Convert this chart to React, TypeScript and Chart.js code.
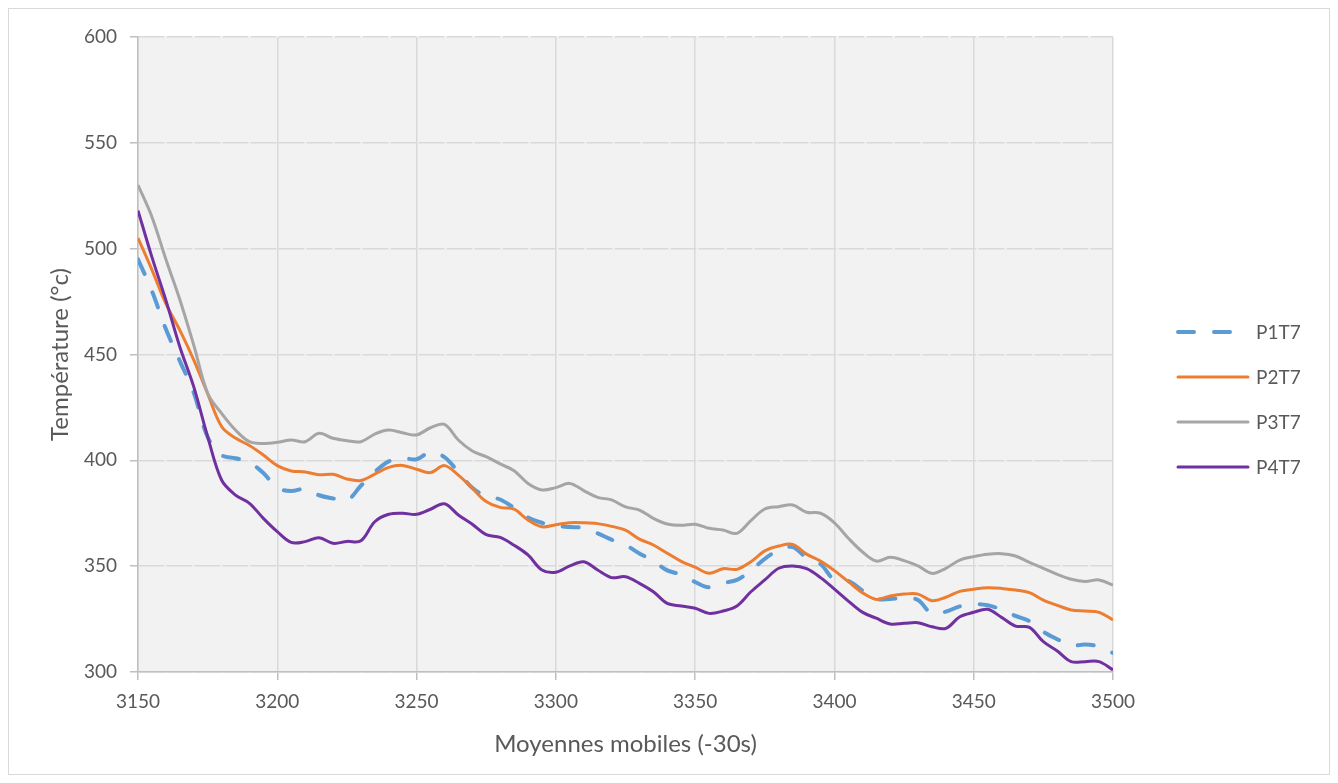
import React, { useEffect, useRef } from "react";
import { Chart, registerables } from "chart.js";

Chart.register(...registerables);

const FONT = "Lato, 'Open Sans', sans-serif";
const TEXT_COLOR = "#595959";
const GRID_COLOR = "#d9d9d9";
const AXIS_COLOR = "#bfbfbf";

const times = [
  3150, 3155, 3160, 3165, 3170, 3175, 3180, 3185, 3190, 3195,
  3200, 3205, 3210, 3215, 3220, 3225, 3230, 3235, 3240, 3245,
  3250, 3255, 3260, 3265, 3270, 3275, 3280, 3285, 3290, 3295,
  3300, 3305, 3310, 3315, 3320, 3325, 3330, 3335, 3340, 3345,
  3350, 3355, 3360, 3365, 3370, 3375, 3380, 3385, 3390, 3395,
  3400, 3405, 3410, 3415, 3420, 3425, 3430, 3435, 3440, 3445,
  3450, 3455, 3460, 3465, 3470, 3475, 3480, 3485, 3490, 3495,
  3500,
];

const p1t7 = [
  495, 480, 462, 447, 432, 411, 402.5, 401, 399, 394,
  387, 385.5, 386.5, 383.5, 382, 381, 388, 394.5, 399.5, 401,
  400.5, 404, 401.5, 394.5, 387, 383, 381.5, 377.5, 373, 370.5,
  369, 368.5, 368, 365.5, 362.5, 360, 356, 352.5, 348, 346,
  342.5, 340, 342, 343.5, 348, 353.5, 357.5, 359, 354, 351,
  343.5, 343, 338.5, 334.5, 334.5, 335, 334, 327.5, 328.5, 331,
  332, 331.5, 329.5, 326.5, 324, 319, 315.5, 312.5, 313, 312,
  309,
];

const p2t7 = [
  505, 490, 474, 461.5, 447.5, 431.5, 416, 410.5, 407, 402.5,
  397.5, 395, 394.5, 393.2, 393.4, 391.2, 390.5, 393.5, 396.7, 397.6,
  395.8, 394.2, 397.5, 393, 386.8, 380.5, 377.8, 376.9, 371.8, 368.6,
  369.6, 370.5, 370.5, 370.1, 368.8, 367, 362.8, 360, 356.1, 352.3,
  349.5, 346.6, 348.8, 348.5, 352.1, 357.2, 359.5, 360.3, 355.7, 352.4,
  347.9, 342.7, 337.5, 334.3, 335.9, 336.8, 336.8, 333.7, 335.3, 338.1,
  339.1, 339.8, 339.5, 338.7, 337.5, 334, 331.5, 329.3, 328.8, 328.2,
  324.6,
];

const p3t7 = [
  530, 515, 495, 476, 454.5, 431.7, 422.2, 414.3, 408.8, 408,
  408.5, 409.6, 408.8, 412.8, 410.4, 409.3, 408.8, 412.4, 414.3, 413,
  412, 415.4, 417, 409.6, 404.4, 401.7, 398.3, 395.1, 389.1, 386,
  387.1, 389.1, 385.7, 382.5, 381.3, 378, 376.5, 372.6, 369.9, 369.3,
  369.8, 367.9, 367.1, 365.5, 371.5, 377, 378.1, 378.9, 375.5, 375,
  370.5, 363.2, 356.8, 352.4, 354.2, 352.6, 350.1, 346.6, 349, 352.9,
  354.5, 355.6, 355.9, 354.8, 351.8, 349, 346.1, 343.8, 342.8, 343.5,
  341.1,
];

const p4t7 = [
  518, 496, 475.7, 453.7, 434.8, 411.2, 390.7, 383.6, 379.7, 372.6,
  366.3, 361.2, 361.6, 363.4, 360.8, 361.7, 362, 371, 374.5, 375,
  374.5, 376.9, 379.5, 374.2, 369.8, 364.9, 363.6, 359.9, 355.3, 348.2,
  347.1, 350.1, 352.1, 348.2, 344.6, 345, 341.9, 337.9, 332.4, 331.2,
  330.1, 327.7, 328.8, 331.2, 337.9, 343.5, 349, 350.1, 348.8, 344.6,
  339.2, 333.5, 328.3, 325.4, 322.7, 323, 323.3, 321.4, 320.6, 326.1,
  328.2, 329.6, 325.8, 321.7, 321.1, 314.3, 309.9, 304.9, 304.9, 304.9,
  301,
];

const seriesLabels = ["P1T7", "P2T7", "P3T7", "P4T7"];
const seriesColors = ["#5B9BD5", "#ED7D31", "#A5A5A5", "#7030A0"];
const seriesValues = [p1t7, p2t7, p3t7, p4t7];

const xTitle = "Moyennes mobiles (-30s)";
const yTitle = "Température (°c)";

const plotBackground = {
  id: "plotBackground",
  beforeDraw(chart: any) {
    const { ctx, chartArea } = chart;
    if (!chartArea) return;
    ctx.save();
    ctx.fillStyle = "#f2f2f2";
    ctx.fillRect(chartArea.left, chartArea.top, chartArea.right - chartArea.left, chartArea.bottom - chartArea.top);
    ctx.restore();
  },
};

const sideLegend = {
  id: "sideLegend",
  afterDraw(chart: any) {
    const { ctx, chartArea } = chart;
    const x0 = chartArea.right + 65;
    const x1 = x0 + 70;
    const yStart = chartArea.top + 295;
    const step = 45;
    chart.data.datasets.forEach((ds: any, i: number) => {
      const y = yStart + i * step;
      ctx.save();
      ctx.strokeStyle = ds.borderColor;
      ctx.lineWidth = ds.borderWidth;
      ctx.lineCap = "round";
      ctx.setLineDash(ds.borderDash || []);
      ctx.beginPath();
      ctx.moveTo(x0, y);
      ctx.lineTo(x1, y);
      ctx.stroke();
      ctx.restore();
      ctx.save();
      ctx.fillStyle = TEXT_COLOR;
      ctx.font = `19px ${FONT}`;
      ctx.textAlign = "left";
      ctx.textBaseline = "middle";
      ctx.fillText(ds.label, x1 + 8, y + 1);
      ctx.restore();
    });
  },
};

export default function App() {
  const canvasRef = useRef<HTMLCanvasElement | null>(null);

  useEffect(() => {
    if (!canvasRef.current) return;
    const datasets = seriesValues.map((vals, i) => ({
      label: seriesLabels[i],
      data: times.map((t, j) => ({ x: t, y: vals[j] })),
      borderColor: seriesColors[i],
      backgroundColor: seriesColors[i],
      borderWidth: i === 0 ? 4 : 3,
      borderDash: i === 0 ? [16, 20] : [],
      borderCapStyle: i === 0 ? "round" : "butt",
      borderJoinStyle: "round",
      pointRadius: 0,
      pointHoverRadius: 0,
      tension: 0.35,
      fill: false,
      order: 3 - i,
    }));

    const chart = new Chart(canvasRef.current, {
      type: "line",
      data: { datasets: datasets as any },
      plugins: [plotBackground, sideLegend],
      options: {
        animation: false,
        responsive: true,
        maintainAspectRatio: false,
        layout: { padding: { left: 29, right: 216, top: 28, bottom: 12 } },
        plugins: {
          legend: { display: false },
          tooltip: { enabled: false },
        },
        scales: {
          x: {
            type: "linear",
            min: 3150,
            max: 3500,
            ticks: {
              stepSize: 50,
              padding: 10,
              color: TEXT_COLOR,
              font: { family: FONT, size: 19 },
              maxRotation: 0,
              autoSkip: false,
              callback: (v: any) => String(v),
            },
            grid: { color: GRID_COLOR, lineWidth: 1.5, tickLength: 8, tickColor: AXIS_COLOR, tickWidth: 1.5 },
            border: { display: true, color: AXIS_COLOR, width: 1.5 },
            title: {
              display: true,
              text: xTitle,
              color: TEXT_COLOR,
              font: { family: FONT, size: 24 },
              padding: { top: 0, bottom: 3 },
            },
            afterFit: (s: any) => {
              s.height = 90;
            },
          },
          y: {
            type: "linear",
            min: 300,
            max: 600,
            ticks: {
              stepSize: 50,
              padding: 13,
              color: TEXT_COLOR,
              font: { family: FONT, size: 19 },
              callback: (v: any) => String(v),
            },
            grid: { color: GRID_COLOR, lineWidth: 1.5, tickLength: 8, tickColor: AXIS_COLOR, tickWidth: 1.5 },
            border: { display: true, color: AXIS_COLOR, width: 1.5, dash: [26, 2] },
            title: {
              display: true,
              text: yTitle,
              color: TEXT_COLOR,
              font: { family: FONT, size: 24 },
              padding: { top: 8, bottom: 0 },
            },
            afterFit: (s: any) => {
              s.width = 100;
            },
          },
        },
      } as any,
    });
    return () => chart.destroy();
  }, []);

  return (
    <div
      style={{
        position: "relative",
        width: 1320,
        height: 765,
        border: "1px solid #d9d9d9",
        background: "#ffffff",
      }}
    >
      <canvas ref={canvasRef} />
    </div>
  );
}
